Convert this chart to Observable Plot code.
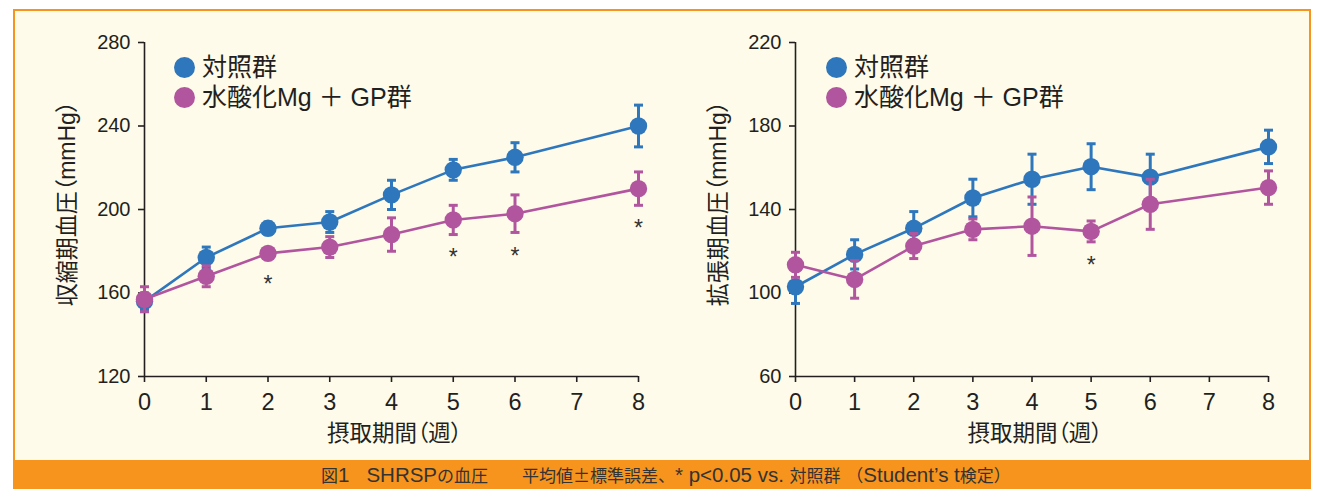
<!DOCTYPE html>
<html><head><meta charset="utf-8">
<script src="https://cdn.jsdelivr.net/npm/d3@7"></script>
<script src="https://cdn.jsdelivr.net/npm/@observablehq/plot@0.6"></script>
<style>
html,body{margin:0;padding:0;background:#ffffff;}
#wrap{position:relative;width:1319px;height:489px;overflow:hidden;font-family:"Liberation Sans","Noto Sans CJK JP",sans-serif;color:#231f20;}
#panel{position:absolute;left:13px;top:9px;width:1298px;height:480px;background:#fefbea;border:2px solid #f7941d;border-bottom:none;box-sizing:border-box;}
#band{position:absolute;left:13px;top:460px;width:1298px;height:29px;background:#f7941d;color:#333;font-size:17px;line-height:29px;text-align:left;padding-left:308px;box-sizing:border-box;white-space:pre;font-family:"Noto Sans CJK JP",sans-serif;}
#band .lat{font-family:"Liberation Sans",sans-serif;font-size:20.5px;}
.chart{position:absolute;top:0;}
svg text{font-feature-settings:"palt";}
.legend{position:absolute;font-size:25px;line-height:30px;font-family:"Liberation Sans","Noto Sans CJK JP",sans-serif;color:#231f20;}
.legend div{display:flex;align-items:center;height:30px;}
.legend span.sw{display:inline-block;width:21px;height:21px;border-radius:50%;margin-right:7px;}
</style></head>
<body>
<div id="wrap">
  <div id="panel"></div>
  <div id="left" class="chart" style="left:0px;"></div>
  <div id="right" class="chart" style="left:660px;"></div>
  <div id="band"></div>
</div>
<script>
// ---- data ----
const weeks = [0, 1, 2, 3, 4, 5, 6, 8];
const xTicks = [0, 1, 2, 3, 4, 5, 6, 7, 8];
const seriesNames = ["対照群", "水酸化Mg ＋ GP群"];
const seriesColors = ["#2e77bd", "#b2559f"];

const sbpControl   = [156, 177, 191, 194, 207, 219, 225, 240];
const sbpControlSE = [4, 5, 3, 5, 7, 5, 7, 10];
const sbpMg        = [157, 168, 179, 182, 188, 195, 198, 210];
const sbpMgSE      = [6, 5, 2, 5, 8, 7, 9, 8];
const sbpSigWeeks  = [2, 5, 6, 8];
const sbpSigY      = [164, 177, 177.5, 191];
const sbpTicks     = [120, 160, 200, 240, 280];

const dbpControl   = [103, 118.5, 131, 145.5, 154.5, 160.5, 155.5, 170];
const dbpControlSE = [8, 7, 8, 9, 12, 11, 11, 8];
const dbpMg        = [113.5, 106.5, 122.5, 130.5, 132, 129.5, 142.5, 150.5];
const dbpMgSE      = [6, 9, 6, 5, 14, 5, 12, 8];
const dbpSigWeeks  = [5];
const dbpSigY      = [113];
const dbpTicks     = [60, 100, 140, 180, 220];

const sbpLabel = "収縮期血圧（mmHg）";
const dbpLabel = "拡張期血圧（mmHg）";
const xLabel = "摂取期間（週）";
const caption = "図1　SHRSPの血圧　　平均値±標準誤差、* p<0.05 vs. 対照群 （Student’s t検定）";

// ---- helpers ----
const capSymbol = {
  draw(ctx, size) {
    const w = Math.sqrt(size / Math.PI);
    ctx.moveTo(-w, 0);
    ctx.lineTo(w, 0);
  }
};

function seriesMarks(means, ses, color) {
  const rows = weeks.map((w, i) => ({x: w, y: means[i], lo: means[i] - ses[i], hi: means[i] + ses[i]}));
  return [
    Plot.line(rows, {x: "x", y: "y", stroke: color, strokeWidth: 2.6}),
    Plot.ruleX(rows, {x: "x", y1: "lo", y2: "hi", stroke: color, strokeWidth: 3}),
    Plot.dot(rows, {x: "x", y: "hi", symbol: capSymbol, r: 4.5, stroke: color, strokeWidth: 3}),
    Plot.dot(rows, {x: "x", y: "lo", symbol: capSymbol, r: 4.5, stroke: color, strokeWidth: 3}),
    Plot.dot(rows, {x: "x", y: "y", r: 8.7, fill: color})
  ];
}

function makeChart({width, marginLeft, marginRight, yDomain, yTicks, yLabel, c, cse, m, mse, sigW, sigY}) {
  const sig = sigW.map((w, i) => ({x: w, y: sigY[i]}));
  return Plot.plot({
    width, height: 460,
    marginLeft, marginRight, marginTop: 42, marginBottom: 84,
    style: {background: "transparent", fontFamily: "'Liberation Sans','Noto Sans CJK JP',sans-serif", color: "#231f20"},
    x: {domain: [0, 8]},
    y: {domain: yDomain},
    marks: [
      Plot.ruleX([0], {stroke: "#231f20", strokeWidth: 1.6}),
      Plot.ruleY([yDomain[0]], {stroke: "#231f20", strokeWidth: 1.6}),
      Plot.axisY({ticks: yTicks, tickSize: 6, tickPadding: 8, fontSize: 20, label: null, stroke: "#231f20", strokeWidth: 1.6}),
      Plot.axisX({ticks: xTicks, tickSize: 6, tickPadding: 11, fontSize: 23.5, label: null, stroke: "#231f20", strokeWidth: 1.6, tickFormat: d => String(d)}),
      Plot.text([yLabel], {frameAnchor: "left", textAnchor: "middle", lineAnchor: "middle", rotate: -90, dx: -77, dy: -6, fontSize: 23, fill: "#231f20"}),
      Plot.text([xLabel], {frameAnchor: "bottom", textAnchor: "middle", lineAnchor: "middle", dx: 3, dy: 57, fontSize: 22.5, fill: "#231f20"}),
      ...seriesMarks(c, cse, seriesColors[0]),
      ...seriesMarks(m, mse, seriesColors[1]),
      Plot.text(sig, {x: "x", y: "y", text: () => "*", fontSize: 23, fill: "#333"})
    ]
  });
}

document.getElementById("left").append(makeChart({
  width: 660, marginLeft: 144, marginRight: 22, yDomain: [120, 280], yTicks: sbpTicks, yLabel: sbpLabel,
  c: sbpControl, cse: sbpControlSE, m: sbpMg, mse: sbpMgSE, sigW: sbpSigWeeks, sigY: sbpSigY
}));
document.getElementById("right").append(makeChart({
  width: 651, marginLeft: 135, marginRight: 43, yDomain: [60, 220], yTicks: dbpTicks, yLabel: dbpLabel,
  c: dbpControl, cse: dbpControlSE, m: dbpMg, mse: dbpMgSE, sigW: dbpSigWeeks, sigY: dbpSigY
}));

function addLegend(left, top) {
  const lg = document.createElement("div");
  lg.className = "legend";
  lg.style.left = left + "px";
  lg.style.top = top + "px";
  seriesNames.forEach((n, i) => {
    const row = document.createElement("div");
    const sw = document.createElement("span");
    sw.className = "sw";
    sw.style.background = seriesColors[i];
    row.append(sw, document.createTextNode(n));
    lg.append(row);
  });
  document.getElementById("wrap").append(lg);
}
addLegend(174, 52);
addLegend(826, 52);

// caption: Latin runs set slightly larger, as in the original typesetting
const band = document.getElementById("band");
caption.split(/([\x20-\x7E’]+)/).forEach(part => {
  if (!part) return;
  if (/^[\x20-\x7E’]+$/.test(part)) {
    const s = document.createElement("span");
    s.className = "lat";
    s.textContent = part;
    band.append(s);
  } else {
    band.append(document.createTextNode(part));
  }
});
</script>
</body></html>
